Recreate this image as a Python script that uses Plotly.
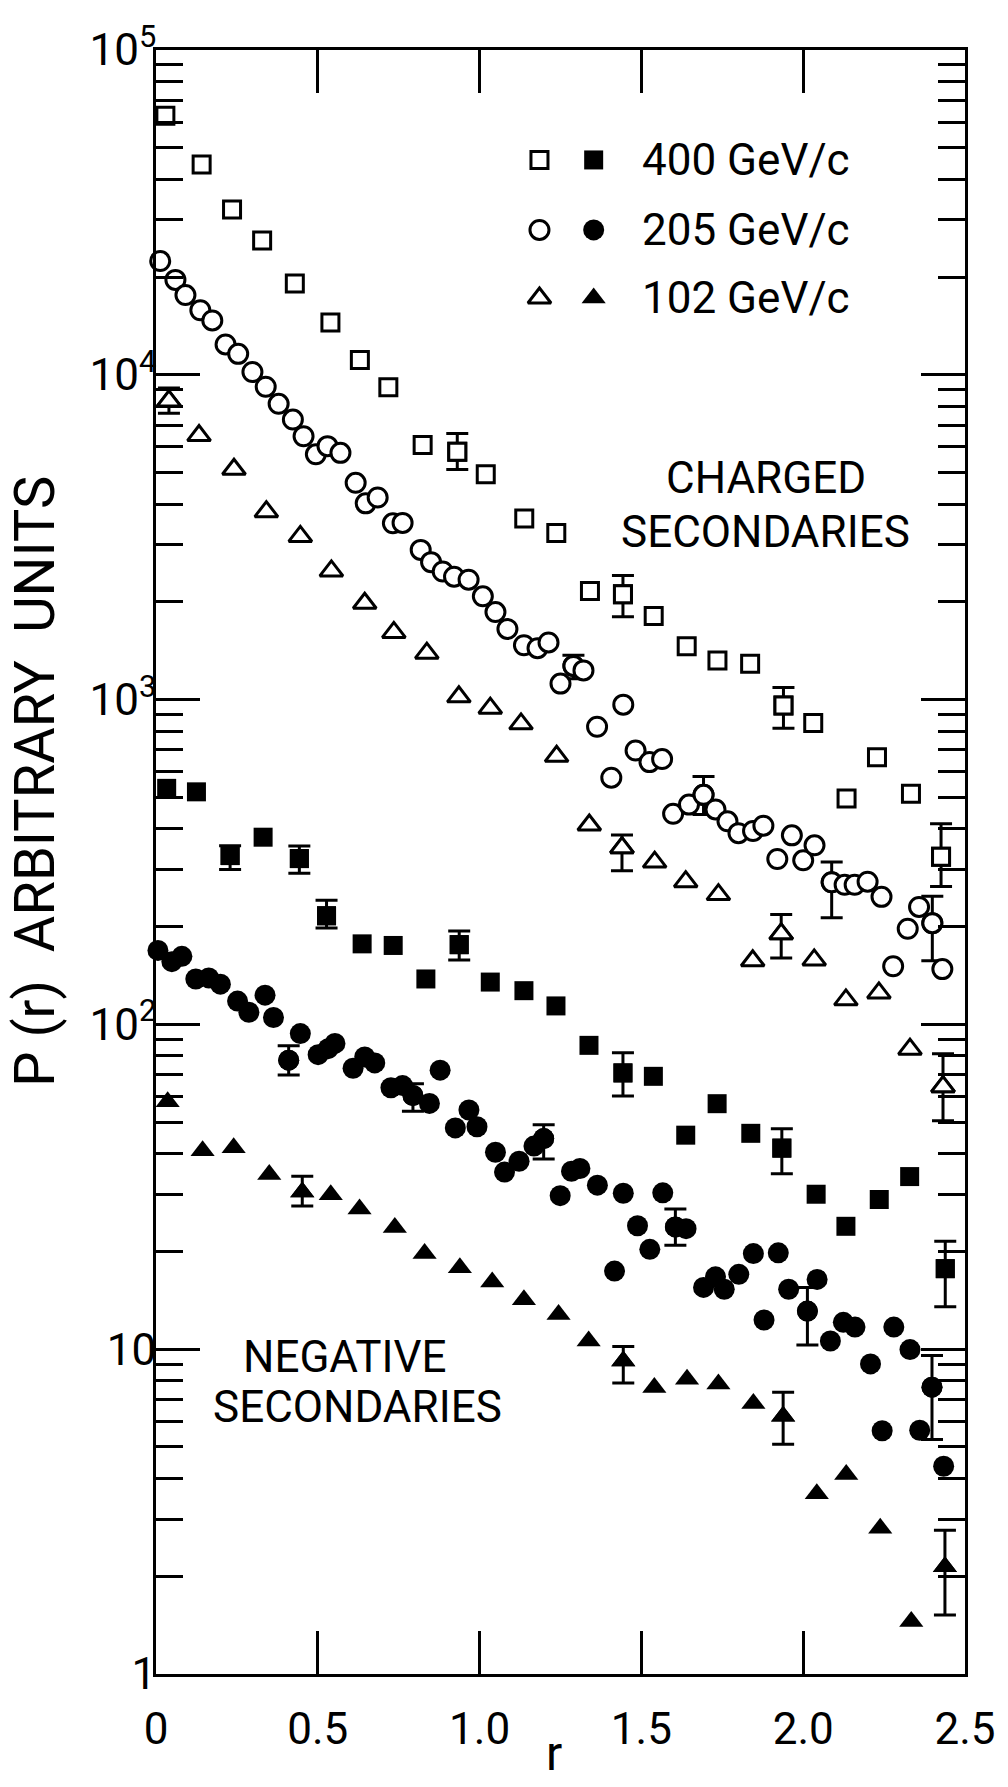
import plotly.graph_objects as go

# ---------------- data ----------------
# 400 GeV/c, charged secondaries (open squares)
r_ch400 = [0.029, 0.141, 0.235, 0.328, 0.429, 0.539, 0.630, 0.718, 0.824, 0.931, 1.019, 1.138,
           1.237, 1.341, 1.443, 1.538, 1.640, 1.735, 1.836, 1.939, 2.031, 2.134, 2.228, 2.333,
           2.426]
p_ch400 = [62700, 44400, 32300, 25900, 19100, 14500, 11100, 9160, 6080, 5800, 4940, 3610,
           3260, 2160, 2110, 1810, 1460, 1320, 1290, 959, 847, 496, 664, 513,
           328]
eidx_ch400 = [9, 14, 19, 24]
ehi_ch400 = [6600, 2410, 1090, 415]
elo_ch400 = [5110, 1800, 816, 266]

# 205 GeV/c, charged secondaries (open circles)
r_ch205 = [0.013, 0.060, 0.091, 0.137, 0.174, 0.215, 0.254, 0.298, 0.339, 0.379, 0.423, 0.456,
           0.494, 0.530, 0.570, 0.617, 0.648, 0.685, 0.732, 0.762, 0.818, 0.850, 0.886, 0.921,
           0.966, 1.010, 1.049, 1.086, 1.137, 1.179, 1.213, 1.250, 1.290, 1.321, 1.363, 1.407,
           1.444, 1.482, 1.525, 1.564, 1.598, 1.647, 1.692, 1.729, 1.766, 1.800, 1.845, 1.877,
           1.920, 1.965, 2.000, 2.035, 2.088, 2.128, 2.159, 2.199, 2.242, 2.278, 2.323, 2.358,
           2.399, 2.430]
p_ch205 = [22400, 19600, 17600, 15800, 14700, 12400, 11600, 10200, 9190, 8140, 7280, 6470,
           5690, 6030, 5750, 4650, 4020, 4190, 3490, 3500, 2890, 2650, 2480, 2390,
           2340, 2080, 1860, 1650, 1470, 1440, 1500, 1120, 1270, 1230, 825, 575,
           965, 697, 642, 656, 445, 475, 509, 459, 422, 388, 394, 409,
           323, 382, 320, 356, 274, 269, 269, 275, 247, 151, 197, 230,
           205, 148]
eidx_ch205 = [32, 42, 52, 60]
ehi_ch205 = [1370, 580, 316, 248]
elo_ch205 = [1160, 443, 213, 157]

# 102 GeV/c, charged secondaries (open triangles)
r_ch102 = [0.040, 0.133, 0.241, 0.341, 0.446, 0.542, 0.645, 0.735, 0.837, 0.936, 1.033, 1.128,
           1.238, 1.339, 1.440, 1.541, 1.637, 1.738, 1.844, 1.932, 2.034, 2.132, 2.234, 2.330,
           2.432]
p_ch102 = [8310, 6500, 5120, 3790, 3180, 2490, 1980, 1610, 1390, 1020, 941, 842,
           669, 411, 350, 316, 275, 251, 157, 190, 158, 119, 125, 83.9,
           64.3]
eidx_ch102 = [0, 14, 19, 24]
ehi_ch102 = [9110, 383, 218, 81.2]
elo_ch102 = [7610, 297, 160, 50.5]

# 400 GeV/c, negative secondaries (filled squares)
r_ng400 = [0.033, 0.125, 0.229, 0.331, 0.443, 0.527, 0.637, 0.733, 0.834, 0.937, 1.033, 1.137,
           1.236, 1.338, 1.443, 1.537, 1.637, 1.734, 1.838, 1.934, 2.040, 2.132, 2.235, 2.329,
           2.439]
p_ng400 = [533, 520, 331, 377, 324, 216, 177, 175, 138, 176, 135, 127,
           114, 86.2, 70.9, 69.2, 45.6, 57.0, 46.2, 41.6, 30.0, 23.9, 28.9, 34.0,
           17.7]
eidx_ng400 = [2, 4, 5, 9, 14, 19, 24]
ehi_ng400 = [355, 354, 241, 194, 81.8, 47.7, 21.5]
elo_ng400 = [300, 292, 198, 158, 60.2, 34.7, 13.5]

# 205 GeV/c, negative secondaries (filled circles)
r_ng205 = [0.006, 0.049, 0.080, 0.123, 0.163, 0.199, 0.252, 0.287, 0.337, 0.363, 0.410, 0.446,
           0.501, 0.532, 0.553, 0.609, 0.645, 0.676, 0.726, 0.762, 0.794, 0.845, 0.878, 0.925,
           0.967, 0.992, 1.049, 1.077, 1.122, 1.168, 1.198, 1.249, 1.284, 1.310, 1.364, 1.417,
           1.444, 1.488, 1.526, 1.566, 1.605, 1.638, 1.692, 1.729, 1.756, 1.801, 1.846, 1.879,
           1.923, 1.955, 2.013, 2.043, 2.084, 2.124, 2.160, 2.208, 2.244, 2.280, 2.330, 2.360,
           2.398, 2.434]
p_ng205 = [169, 156, 162, 138, 139, 133, 118, 109, 123, 105, 77.6, 93.7,
           80.7, 84.2, 87.4, 73.3, 79.4, 76.1, 63.8, 64.8, 60.4, 57.1, 72.3, 48.0,
           54.5, 48.4, 40.4, 35.1, 37.9, 42.2, 44.5, 29.7, 35.3, 36.0, 32.0, 17.4,
           30.2, 24.0, 20.3, 30.3, 23.8, 23.5, 15.5, 16.7, 15.3, 17.0, 19.7, 12.3,
           19.8, 15.3, 13.1, 16.4, 10.6, 12.1, 11.7, 9.01, 5.61, 11.7, 9.97, 5.63,
           7.64, 4.36]
eidx_ng205 = [10, 20, 30, 40, 50, 60]
ehi_ng205 = [86.0, 65.7, 49.1, 27.0, 15.5, 9.56]
elo_ng205 = [69.8, 54.0, 38.5, 20.9, 10.3, 5.27]

# 102 GeV/c, negative secondaries (filled triangles)
r_ng102 = [0.036, 0.144, 0.240, 0.350, 0.452, 0.540, 0.629, 0.738, 0.830, 0.939, 1.039, 1.137,
           1.244, 1.337, 1.444, 1.540, 1.641, 1.738, 1.846, 1.938, 2.042, 2.133, 2.238, 2.334,
           2.438]
p_ng102 = [57.8, 40.8, 41.7, 34.5, 30.5, 29.9, 27.0, 23.7, 19.7, 17.8, 16.1, 14.2,
           12.8, 10.6, 9.20, 7.62, 8.08, 7.82, 6.81, 6.22, 3.59, 4.11, 2.81, 1.45,
           2.14]
eidx_ng102 = [4, 14, 19, 24]
ehi_ng102 = [34.1, 10.2, 7.37, 2.77]
elo_ng102 = [27.6, 7.87, 5.10, 1.52]

x_tickvals = [0, 0.5, 1.0, 1.5, 2.0, 2.5]
x_ticktext = ["0", "0.5", "1.0", "1.5", "2.0", "2.5"]
y_tickvals = [1, 10, 100, 1000, 10000, 100000]
y_ticktext = ["1", "10", "10<sup>2</sup>", "10<sup>3</sup>", "10<sup>4</sup>", "10<sup>5</sup>"]

legend_labels = ["400 GeV/c", "205 GeV/c", "102 GeV/c"]

# ---------------- styles ----------------
FONT = "Roboto, Liberation Sans, sans-serif"

styles = {
    "ch400": dict(symbol="square", size=17, color="white", line=dict(color="black", width=3)),
    "ch205": dict(symbol="circle", size=19, color="white", line=dict(color="black", width=3)),
    "ch102": dict(symbol="triangle-up", size=20, color="white", line=dict(color="black", width=3)),
    "ng400": dict(symbol="square", size=19, color="black", line=dict(color="black", width=0)),
    "ng205": dict(symbol="circle", size=21, color="black", line=dict(color="black", width=0)),
    "ng102": dict(symbol="triangle-up", size=21, color="black", line=dict(color="black", width=0)),
}

series = [
    ("ch400", r_ch400, p_ch400, eidx_ch400, ehi_ch400, elo_ch400),
    ("ch205", r_ch205, p_ch205, eidx_ch205, ehi_ch205, elo_ch205),
    ("ch102", r_ch102, p_ch102, eidx_ch102, ehi_ch102, elo_ch102),
    ("ng400", r_ng400, p_ng400, eidx_ng400, ehi_ng400, elo_ng400),
    ("ng205", r_ng205, p_ng205, eidx_ng205, ehi_ng205, elo_ng205),
    ("ng102", r_ng102, p_ng102, eidx_ng102, ehi_ng102, elo_ng102),
]

fig = go.Figure()

for key, rs, ps, eidx, ehi, elo in series:
    er = [rs[i] for i in eidx]
    ep = [ps[i] for i in eidx]
    plus = [h - p for h, p in zip(ehi, ep)]
    minus = [p - l for l, p in zip(elo, ep)]
    fig.add_trace(go.Scatter(
        x=er, y=ep, mode="markers", marker=styles[key], showlegend=False, cliponaxis=False,
        error_y=dict(type="data", symmetric=False, array=plus, arrayminus=minus,
                     color="black", thickness=3, width=11),
    ))
    fig.add_trace(go.Scatter(
        x=rs, y=ps, mode="markers", marker=styles[key], showlegend=False, cliponaxis=False,
    ))

# ---------------- in-plot legend (on an overlay unit axis) ----------------
leg_x_open = 0.474
leg_x_fill = 0.541
leg_x_text = 0.598
leg_rows = [0.9323, 0.8892, 0.8473]
leg_keys = [("ch400", "ng400"), ("ch205", "ng205"), ("ch102", "ng102")]
for (ko, kf), yrow, lab in zip(leg_keys, leg_rows, legend_labels):
    for k, xx in ((ko, leg_x_open), (kf, leg_x_fill)):
        fig.add_trace(go.Scatter(x=[xx], y=[yrow], mode="markers", marker=styles[k],
                                 xaxis="x2", yaxis="y2", showlegend=False))
    fig.add_annotation(x=leg_x_text, y=yrow, xref="paper", yref="paper", text=lab,
                       showarrow=False, xanchor="left", yanchor="middle",
                       font=dict(family=FONT, size=44, color="black"))

# ---------------- text labels ----------------
def label(txt, x, y, size=44, angle=0, yanchor="middle"):
    fig.add_annotation(x=x, y=y, xref="paper", yref="paper", text=txt, showarrow=False,
                       xanchor="center", yanchor=yanchor, textangle=angle,
                       font=dict(family=FONT, size=size, color="black"))

label("CHARGED", 0.754, 0.7365)
label("SECONDARIES", 0.754, 0.7032)
label("NEGATIVE", 0.2339, 0.1952)
label("SECONDARIES", 0.2485, 0.1644)
label("P (r)  ARBITRARY  UNITS", -0.1498, 0.5499, size=56, angle=-90)
label("r", 0.4921, -0.0677, size=48, yanchor="bottom")

axis_common = dict(showline=True, linecolor="black", linewidth=3, mirror="allticks",
                   showgrid=False, zeroline=False, ticks="inside", tickcolor="black",
                   tickwidth=3)

fig.update_layout(
    width=1008, height=1787,
    margin=dict(l=156, r=31, t=50, b=113),
    paper_bgcolor="white", plot_bgcolor="white",
    showlegend=False,
    xaxis=dict(range=[0, 2.5], tickmode="array", tickvals=x_tickvals, ticktext=x_ticktext,
               ticklen=43, ticklabelstandoff=14,
               tickfont=dict(family=FONT, size=44, color="black"), **axis_common),
    yaxis=dict(type="log", range=[0, 5], tickmode="array", tickvals=y_tickvals,
               ticktext=y_ticktext, ticklen=44, ticklabelstandoff=-12,
               tickfont=dict(family=FONT, size=44, color="black"),
               minor=dict(tickmode="array",
                          tickvals=[m * 10 ** e for e in range(5) for m in range(2, 10)],
                          ticks="inside", ticklen=27, tickwidth=3, tickcolor="black"),
               **axis_common),
    xaxis2=dict(overlaying="x", range=[0, 1], visible=False),
    yaxis2=dict(overlaying="y", range=[0, 1], visible=False),
)

fig.write_html("out.html")
